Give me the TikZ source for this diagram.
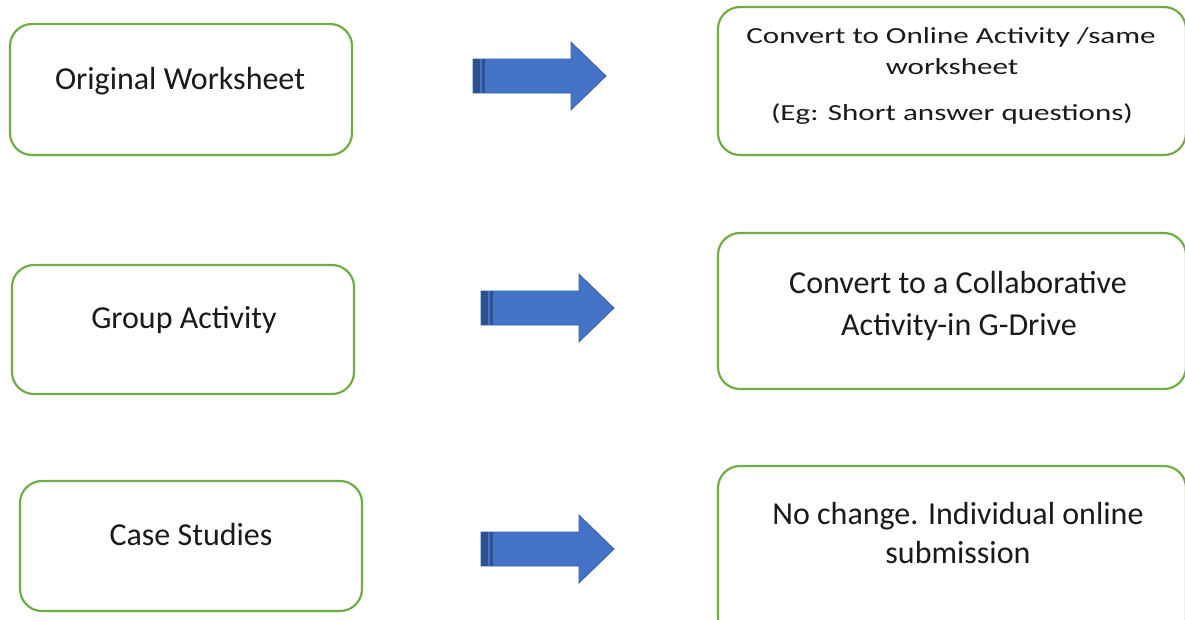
\documentclass[tikz,border=0pt]{standalone}
\usepackage{fontspec}
\setmainfont{Carlito}
\newfontfamily\widefont[FakeStretch=1.35]{Carlito}
\definecolor{boxgreen}{HTML}{70AD47}
\definecolor{arrowblue}{HTML}{4472C4}
\definecolor{arrowedge}{HTML}{3A62AC}
\definecolor{stripedark}{HTML}{2F528F}
\definecolor{txt}{HTML}{1A1A1A}
\tikzset{
  box/.style={draw=boxgreen, line width=2.2pt, rounded corners=22pt, fill=white},
  lbl/.style={anchor=base, text=txt, font=\fontsize{32}{40}\selectfont, inner sep=0pt},
  slbl/.style={anchor=base, text=txt, font=\widefont\fontsize{23}{30}\selectfont, inner sep=0pt},
  barrow/.pic={
    \fill[arrowblue, draw=arrowedge, line width=0.8pt] (0,-17) -- (98,-17) -- (98,-34) -- (133,0) -- (98,34) -- (98,17) -- (0,17) -- cycle;
    \fill[stripedark] (0,-17) rectangle (7,17);
    \fill[stripedark] (8.5,-17) rectangle (12,17);
  }
}
\begin{document}
\begin{tikzpicture}[x=1pt,y=-1pt]
\useasboundingbox (0,0) rectangle (1185,619);
\clip (0,0) rectangle (1185,619);
% left boxes
\draw[box] (10,24) rectangle (352,155);
\node[lbl] (ow) at (180,89) {Original Worksheet};
\draw[box] (12,265) rectangle (354,394);
\node[lbl] (ga) at (184,328) {Group Activity};
\draw[box] (20,481) rectangle (362,611);
\node[lbl] (cs) at (191,545) {Case Studies};
% right boxes
\draw[box] (718,7) rectangle (1186,155);
\node[slbl] (r1a) at (951,43) {Convert to Online Activity /same};
\node[slbl] (r1b) at (952,74) {worksheet};
\node[slbl] (r1c) at (952,120) {(Eg: Short answer questions)};
\draw[box] (718,233) rectangle (1186,389);
\node[lbl] (r2a) at (958,293) {Convert to a Collaborative};
\node[lbl] (r2b) at (959,335) {Activity-in G-Drive};
\draw[box] (718,466) rectangle (1186,640);
\node[lbl] (r3a) at (958,524) {No change. Individual online};
\node[lbl] (r3b) at (958,563) {submission};
% arrows
\pic at (473,76) {barrow};
\pic at (481,308) {barrow};
\pic at (481,549) {barrow};
\end{tikzpicture}
\end{document}
